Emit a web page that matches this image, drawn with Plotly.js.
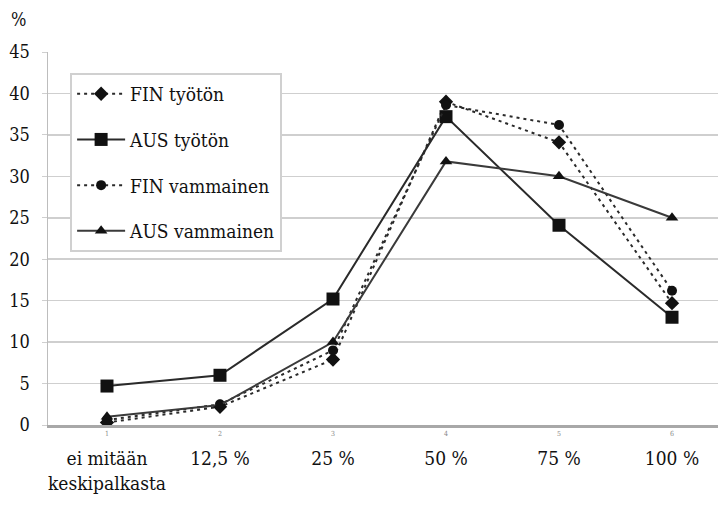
<!DOCTYPE html>
<html>
<head>
<meta charset="utf-8">
<script src="https://cdn.plot.ly/plotly-3.0.1.min.js"></script>
<style>html,body{margin:0;padding:0;background:#fff;}#chart{width:721px;height:506px;}</style>
</head>
<body>
<div id="chart"></div>
<script>
// Data
const categories = [1, 2, 3, 4, 5, 6];
const categoryLabels = ["ei mitään<br>keskipalkasta", "12,5 %", "25 %", "50 %", "75 %", "100 %"];
const smallTickLabels = ["1", "2", "3", "4", "5", "6"];
const finTyoton = [0.3, 2.2, 7.9, 39.0, 34.1, 14.7];
const ausTyoton = [4.7, 6.0, 15.2, 37.2, 24.1, 13.0];
const finVammainen = [0.6, 2.5, 9.0, 38.6, 36.2, 16.2];
const ausVammainen = [1.0, 2.4, 10.0, 31.8, 30.0, 25.0];
const seriesNames = ["FIN työtön", "AUS työtön", "FIN vammainen", "AUS vammainen"];

const fontFam = "DejaVu Serif Condensed, DejaVu Serif";

const traces = [
  {x: categories, y: finTyoton, name: seriesNames[0], legendgroup: "a", mode: "lines+markers",
   line: {color: "#2a2a2a", width: 2, dash: "3px,4px"}, marker: {symbol: "diamond", size: 11, color: "#111"}},
  {x: categories, y: ausTyoton, name: seriesNames[1], legendgroup: "b", mode: "lines+markers",
   line: {color: "#2a2a2a", width: 2}, marker: {symbol: "square", size: 13, color: "#111"}},
  {x: categories, y: finVammainen, name: seriesNames[2], legendgroup: "c", mode: "lines+markers",
   line: {color: "#2a2a2a", width: 2, dash: "3px,4px"}, marker: {symbol: "circle", size: 10, color: "#111"}},
  {x: categories, y: ausVammainen, name: seriesNames[3], legendgroup: "d", mode: "lines+markers",
   line: {color: "#3a3a3a", width: 2}, marker: {symbol: "triangle-up", size: 11, color: "#111"}}
];

const annotations = categories.map((c, i) => ({
  x: c, y: 0, xref: "x", yref: "y", text: smallTickLabels[i], showarrow: false,
  yanchor: "top", yshift: -3, font: {family: fontFam, size: 7, color: "#888"}
}));
annotations.push({
  x: 0, y: 1, xref: "paper", yref: "paper", xanchor: "right", yanchor: "bottom",
  xshift: -20, yshift: 20, text: "%", showarrow: false,
  font: {family: fontFam, size: 18, color: "#111"}
});

const layout = {
  width: 721, height: 506,
  margin: {l: 48, r: 3, t: 52, b: 81},
  paper_bgcolor: "#fff", plot_bgcolor: "#fff",
  font: {family: fontFam, size: 18, color: "#111"},
  showlegend: true,
  legend: {
    x: 0.033, y: 0.944, xanchor: "left", yanchor: "top",
    bgcolor: "#fff", bordercolor: "#d0d0d0", borderwidth: 2,
    traceorder: "grouped", tracegroupgap: 18,
    font: {family: fontFam, size: 19, color: "#111"},
    itemwidth: 48
  },
  xaxis: {
    range: [0.478, 6.407], tickmode: "array", tickvals: categories, ticktext: categoryLabels,
    showgrid: false, zeroline: false, showline: true, linecolor: "#a8a8a8", linewidth: 3,
    ticks: "", ticklabelstandoff: 14,
    tickfont: {family: fontFam, size: 19, color: "#111"}
  },
  yaxis: {
    range: [0, 45], dtick: 5, tick0: 0, showgrid: true, gridcolor: "#cfcfcf", gridwidth: 1.5,
    zeroline: false, showline: true, linecolor: "#bdbdbd", linewidth: 1.5,
    ticks: "outside", ticklen: 5, tickcolor: "#cfcfcf", ticklabelstandoff: 8,
    tickfont: {family: fontFam, size: 18, color: "#111"}
  },
  annotations: annotations
};

Plotly.newPlot("chart", traces, layout, {displayModeBar: false, staticPlot: true});
</script>
</body>
</html>
